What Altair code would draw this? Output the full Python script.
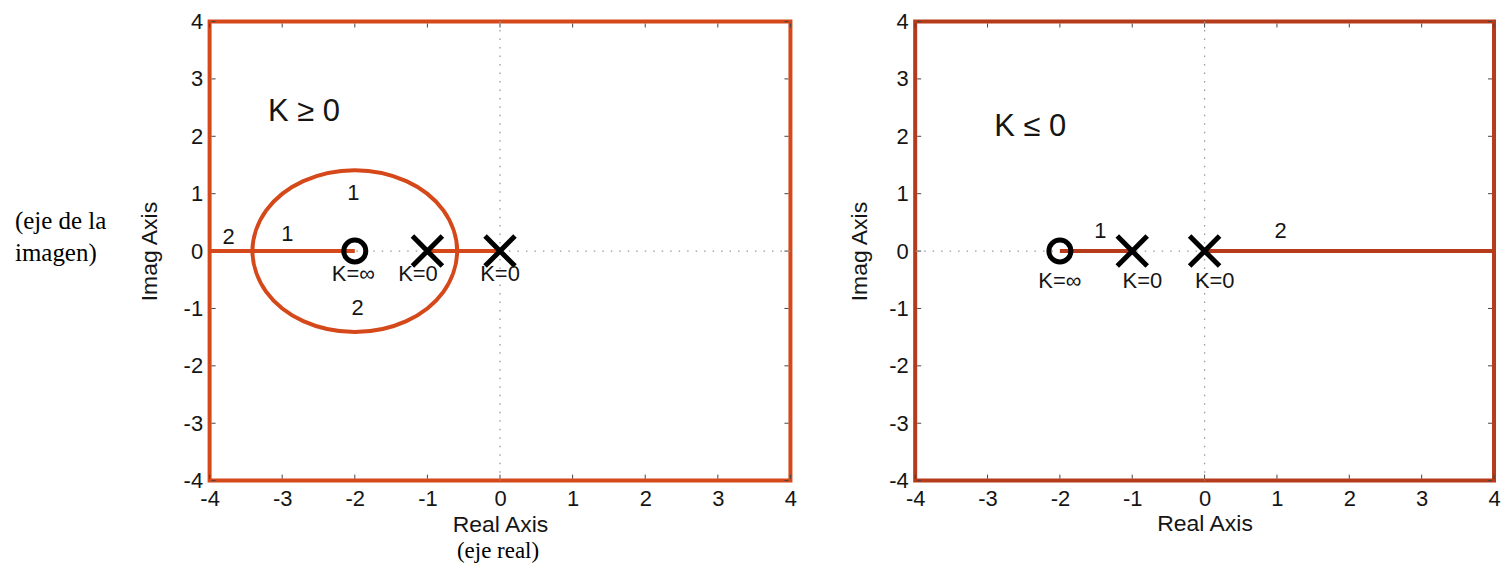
import altair as alt
import pandas as pd

# ---------------- data ----------------
ticks = [-4, -3, -2, -1, 0, 1, 2, 3, 4]
zero_re = [-2]
pole_re = [-1, 0]

# root-locus circle (K >= 0)
circle_re = [-3.41, -3.22, -2.71, -2.0, -1.29, -0.78, -0.59, -0.78, -1.29, -2.0, -2.71, -3.22]
circle_im = [0.0, 0.71, 1.22, 1.41, 1.22, 0.71, 0.0, -0.71, -1.22, -1.41, -1.22, -0.71]

# real-axis segments of the locus
left_seg_start = [-4, -1]
left_seg_end = [-2, 0]
right_seg_start = [-2, 0]
right_seg_end = [-1, 4]

# annotation texts
left_lbl_text = ["1", "1", "2", "2", "K=\u221e", "K=0", "K=0"]
left_lbl_x = [-2.02, -2.93, -3.74, -1.96, -2.02, -1.13, 0.0]
left_lbl_y = [1.01, 0.30, 0.24, -0.99, -0.40, -0.40, -0.40]

right_lbl_text = ["1", "2", "K=\u221e", "K=0", "K=0"]
right_lbl_x = [-1.44, 1.05, -2.0, -0.86, 0.14]
right_lbl_y = [0.35, 0.35, -0.52, -0.52, -0.52]

left_title = ["K \u2265 0"]
left_title_x = [-2.70]
left_title_y = [2.43]
right_title = ["K \u2264 0"]
right_title_x = [-2.41]
right_title_y = [2.16]

WL, WR, H = 582, 580, 460
LEFT_COL = "#D4481A"
RIGHT_COL = "#B63B1B"
FONT = "Liberation Sans"
SERIF = "Liberation Serif"
TXT = "#151515"


def xenc(field, title_pad):
    return alt.X(field, type="quantitative",
                 scale=alt.Scale(domain=[-4, 4], nice=False, zero=False),
                 axis=alt.Axis(values=ticks, title="Real Axis", grid=False, domain=False,
                               ticks=False, tickSize=0, labelPadding=8, titlePadding=title_pad,
                               labelExpr="'' + datum.value", labelFlush=False, labelOverlap=False,
                               labelFont=FONT, labelFontSize=22, labelColor=TXT,
                               titleFont=FONT, titleFontSize=23, titleFontWeight="normal",
                               titleColor=TXT))


def yenc(field, title_pad):
    return alt.Y(field, type="quantitative",
                 scale=alt.Scale(domain=[-4, 4], nice=False, zero=False),
                 axis=alt.Axis(values=ticks, title="Imag Axis", grid=False, domain=False,
                               ticks=False, tickSize=0, labelPadding=7, titlePadding=title_pad,
                               labelExpr="'' + datum.value", labelFlush=False, labelOverlap=False,
                               labelFont=FONT, labelFontSize=22, labelColor=TXT,
                               titleFont=FONT, titleFontSize=23, titleFontWeight="normal",
                               titleColor=TXT))


def panel(color, W, seg_s, seg_e, lbl_t, lbl_x, lbl_y, ttl, ttl_x, ttl_y, xtp, ytp,
          circle=False, extra=None):
    X = lambda f: xenc(f, xtp)
    Y = lambda f: yenc(f, ytp)
    tick_df = pd.DataFrame({"x": ticks, "y": ticks})
    guides_v = alt.Chart(pd.DataFrame({"x": [0]})).mark_rule(
        color="#9a9a9a", strokeDash=[1.5, 7], strokeWidth=1.3).encode(x=X("x"))
    guides_h = alt.Chart(pd.DataFrame({"y": [0]})).mark_rule(
        color="#9a9a9a", strokeDash=[1.5, 7], strokeWidth=1.3).encode(y=Y("y"))
    tb = alt.Chart(tick_df).mark_rule(color="#444", strokeWidth=1).encode(
        x=X("x"), y=alt.value(H - 2), y2=alt.value(H - 6))
    tt = alt.Chart(tick_df).mark_rule(color="#444", strokeWidth=1).encode(
        x=X("x"), y=alt.value(2), y2=alt.value(6))
    tl = alt.Chart(tick_df).mark_rule(color="#444", strokeWidth=1).encode(
        y=Y("y"), x=alt.value(2), x2=alt.value(6))
    tr = alt.Chart(tick_df).mark_rule(color="#444", strokeWidth=1).encode(
        y=Y("y"), x=alt.value(W - 2), x2=alt.value(W - 6))
    segs = alt.Chart(pd.DataFrame({"x": seg_s, "x2": seg_e, "y": [0] * len(seg_s)})).mark_rule(
        color=color, strokeWidth=4).encode(x=X("x"), x2="x2", y=Y("y"))
    layers = [guides_v, guides_h, tb, tt, tl, tr, segs]
    if circle:
        cdf = pd.DataFrame({"x": circle_re, "y": circle_im, "o": list(range(len(circle_re)))})
        layers.append(alt.Chart(cdf).mark_line(
            color=color, strokeWidth=4, interpolate="cardinal-closed").encode(
            x=X("x"), y=Y("y"), order="o:Q"))
    zeros = alt.Chart(pd.DataFrame({"x": zero_re, "y": [0] * len(zero_re)})).mark_point(
        shape="circle", filled=False, size=484, strokeWidth=5, color="black", opacity=1).encode(
        x=X("x"), y=Y("y"))
    poles = alt.Chart(pd.DataFrame({"x": pole_re, "y": [0] * len(pole_re)})).mark_point(
        shape="M-1,-1L1,1M-1,1L1,-1", filled=False, size=900, strokeWidth=5,
        color="black", opacity=1).encode(x=X("x"), y=Y("y"))
    labels = alt.Chart(pd.DataFrame({"x": lbl_x, "y": lbl_y, "t": lbl_t})).mark_text(
        font=FONT, fontSize=22, color=TXT, align="center", baseline="middle").encode(
        x=X("x"), y=Y("y"), text="t:N")
    title = alt.Chart(pd.DataFrame({"x": ttl_x, "y": ttl_y, "t": ttl})).mark_text(
        font=FONT, fontSize=31, color=TXT, align="center", baseline="middle").encode(
        x=X("x"), y=Y("y"), text="t:N")
    layers += [zeros, poles, labels, title]
    if extra:
        layers += extra
    return alt.layer(*layers).properties(
        width=W, height=H,
        view=alt.ViewBackground(stroke=color, strokeWidth=4, fill="white"))


imag_note = alt.Chart(pd.DataFrame({"t": [["(eje de la", "imagen)"]]})).mark_text(
    font=SERIF, fontSize=25, color="black", align="left", baseline="middle", lineHeight=32).encode(
    x=alt.value(-195), y=alt.value(200), text="t")
real_note = alt.Chart(pd.DataFrame({"t": ["(eje real)"]})).mark_text(
    font=SERIF, fontSize=23, color="black", align="center", baseline="middle").encode(
    x=alt.value(289), y=alt.value(531), text="t:N")

left = panel(LEFT_COL, WL, left_seg_start, left_seg_end, left_lbl_text, left_lbl_x, left_lbl_y,
             left_title, left_title_x, left_title_y, 4, 22, circle=True,
             extra=[imag_note, real_note])
right = panel(RIGHT_COL, WR, right_seg_start, right_seg_end, right_lbl_text, right_lbl_x,
              right_lbl_y, right_title, right_title_x, right_title_y, 3, 17)

chart = alt.hconcat(left, right, spacing=47).properties(
    padding={"left": 5, "top": 0, "right": 0, "bottom": 0},
    background="white")

chart.save("out.html", embed_options={"renderer": "svg", "actions": False})
